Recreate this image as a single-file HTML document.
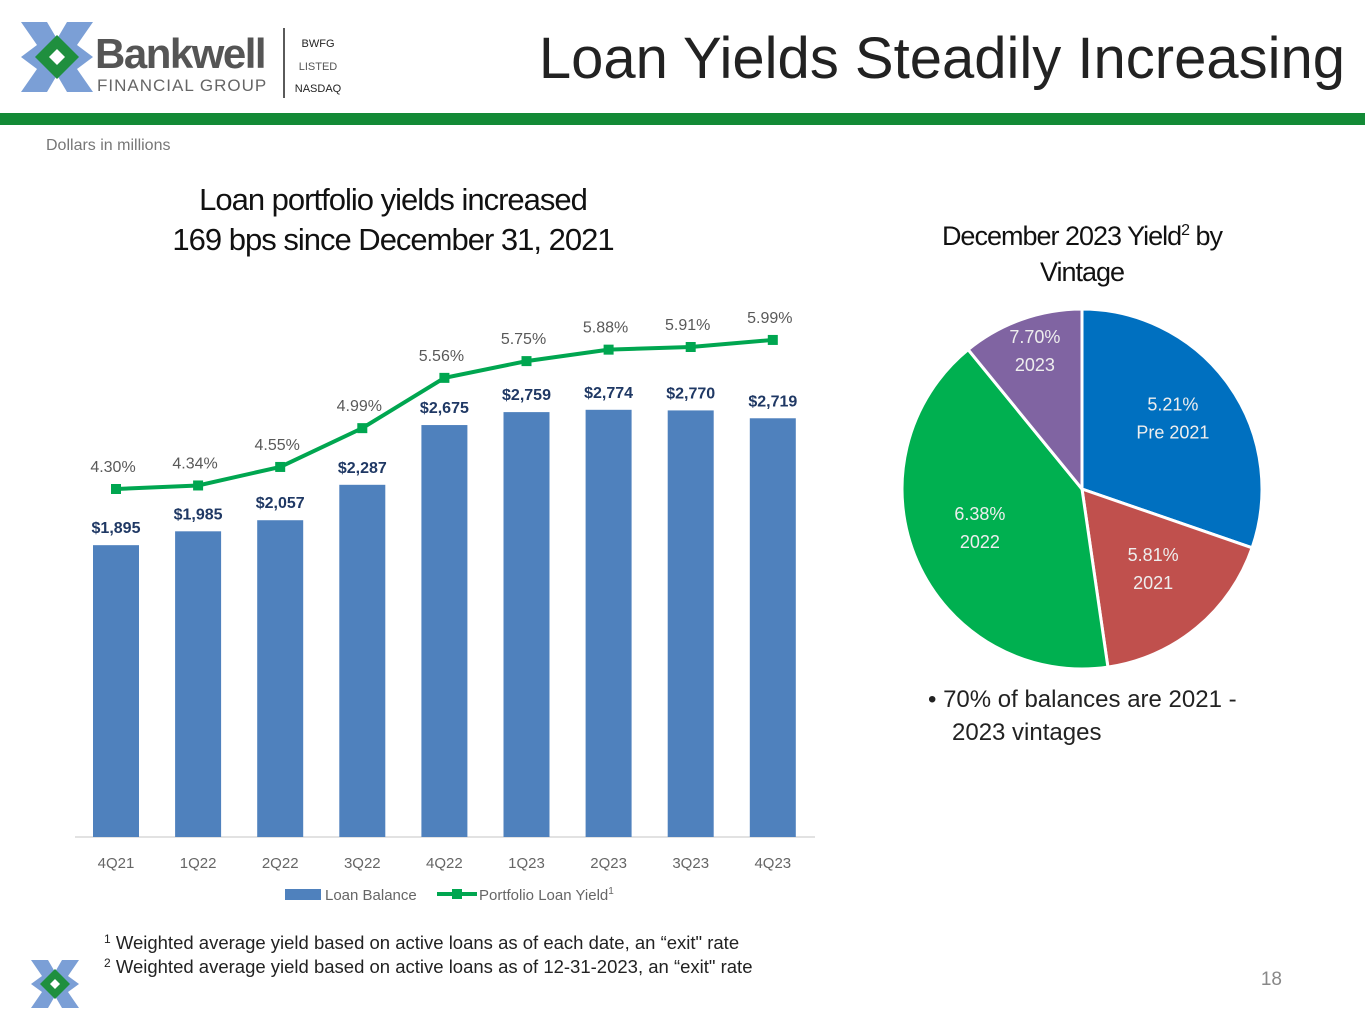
<!DOCTYPE html>
<html><head><meta charset="utf-8"><style>
body{margin:0;width:1365px;height:1024px;background:#fff;overflow:hidden;font-family:"Liberation Sans",sans-serif}
svg{display:block}
</style></head><body>
<svg id="page" width="1365" height="1024" viewBox="0 0 1365 1024">
<g>
  <g transform="translate(57,57)">
    <path d="M-36,-35 L-10,-35 L0,-18 L10,-35 L36,-35 L20,-12 L36,0 L20,12 L36,35 L10,35 L0,18 L-10,35 L-36,35 L-20,12 L-36,0 L-20,-12Z" fill="#7b9fd6"/>
    <path d="M0,-22 L22,0 L0,22 L-22,0Z" fill="#1f8f3e"/>
    <path d="M0,-8 L8,0 L0,8 L-8,0Z" fill="#fff"/>
  </g>
  <text x="95" y="68" font-size="42" font-weight="bold" fill="#555" letter-spacing="-1.5">Bankwell</text>
  <text x="97" y="91" font-size="17" fill="#666" letter-spacing="1">FINANCIAL GROUP</text>
  <line x1="284" y1="28" x2="284" y2="98" stroke="#222" stroke-width="1.5"/>
  <text x="318" y="47" font-size="11" fill="#222" text-anchor="middle">BWFG</text>
  <text x="318" y="70" font-size="11" fill="#555" text-anchor="middle">LISTED</text>
  <text x="318" y="92" font-size="11" fill="#222" text-anchor="middle">NASDAQ</text>
</g>
<text x="1345" y="78" font-size="58" fill="#222" text-anchor="end">Loan Yields Steadily Increasing</text>
<rect x="0" y="113" width="1365" height="12" fill="#138a36"/>
<text x="46" y="150" font-size="16" fill="#777">Dollars in millions</text>
<text x="393" y="210" font-size="31" fill="#111" text-anchor="middle" letter-spacing="-1">Loan portfolio yields increased</text>
<text x="393" y="250" font-size="31" fill="#111" text-anchor="middle" letter-spacing="-1">169 bps since December 31, 2021</text>
<g id="bars"></g>
<g>
  <rect x="285" y="889" width="36" height="11" fill="#4f81bd"/>
  <text x="325" y="900" font-size="15" fill="#666">Loan Balance</text>
  <line x1="437" y1="894" x2="477" y2="894" stroke="#00a650" stroke-width="4"/>
  <rect x="452" y="889" width="10" height="10" fill="#00a650"/>
  <text x="479" y="900" font-size="15" fill="#666">Portfolio Loan Yield<tspan font-size="10" dy="-6">1</tspan></text>
</g>
<text x="1082" y="245" font-size="27" fill="#111" text-anchor="middle" letter-spacing="-1">December 2023 Yield<tspan font-size="16" dy="-10">2</tspan><tspan dy="10"> by</tspan></text>
<text x="1082" y="281" font-size="27" fill="#111" text-anchor="middle" letter-spacing="-1">Vintage</text>
<g id="pie"></g>
<text x="928" y="707" font-size="24" fill="#222">•  70% of balances are 2021 -</text>
<text x="952" y="740" font-size="24" fill="#222">2023 vintages</text>
<text x="104" y="949" font-size="18.5" fill="#222"><tspan font-size="12" dy="-6">1</tspan><tspan dy="6"> Weighted average yield based on active loans as of each date, an “exit" rate</tspan></text>
<text x="104" y="973" font-size="18.5" fill="#222"><tspan font-size="12" dy="-6">2</tspan><tspan dy="6"> Weighted average yield based on active loans as of 12-31-2023, an “exit" rate</tspan></text>
<g transform="translate(55,984)">
  <path d="M-24,-24 L-7,-24 L0,-12 L7,-24 L24,-24 L13,-8 L24,0 L13,8 L24,24 L7,24 L0,12 L-7,24 L-24,24 L-13,8 L-24,0 L-13,-8Z" fill="#7b9fd6"/>
  <path d="M0,-15 L15,0 L0,15 L-15,0Z" fill="#1f8f3e"/>
  <path d="M0,-5 L5,0 L0,5 L-5,0Z" fill="#fff"/>
</g>
<text x="1282" y="985" font-size="19" fill="#888" text-anchor="end">18</text>
</svg>
<script>
const categories=["4Q21","1Q22","2Q22","3Q22","4Q22","1Q23","2Q23","3Q23","4Q23"];
const balances=[1895,1985,2057,2287,2675,2759,2774,2770,2719];
const balanceLabels=["$1,895","$1,985","$2,057","$2,287","$2,675","$2,759","$2,774","$2,770","$2,719"];
const yields=[4.30,4.34,4.55,4.99,5.56,5.75,5.88,5.91,5.99];
const yieldLabels=["4.30%","4.34%","4.55%","4.99%","5.56%","5.75%","5.88%","5.91%","5.99%"];
const pieShares=[30.3,17.4,41.4,10.9];
const pieRates=["5.21%","5.81%","6.38%","7.70%"];
const pieVintages=["Pre 2021","2021","2022","2023"];
const pieColors=["#0070c0","#c0504d","#00b050","#8064a2"];
const NS="http://www.w3.org/2000/svg";
function mk(t,a,p){const e=document.createElementNS(NS,t);for(const k in a)e.setAttribute(k,a[k]);p.appendChild(e);return e;}
const xS=i=>116+i*82.1;
const yB=v=>837-v*0.154;
const yL=v=>489-(v-4.30)*88.2;
const g=document.getElementById('bars');
let ax=mk('line',{x1:75,y1:837,x2:815,y2:837,stroke:'#d9d9d9','stroke-width':1.5},g);


categories.forEach((c,i)=>{
  const r=mk('rect',{x:xS(i)-23,y:yB(balances[i]),width:46,height:837-yB(balances[i]),fill:'#4f81bd'},g);
  
  
  const t=mk('text',{x:xS(i),y:yB(balances[i])-12,'font-size':16,'font-weight':'bold',fill:'#1f3864','text-anchor':'middle'},g);
  t.textContent=balanceLabels[i];
  
  
  const x=mk('text',{x:xS(i),y:868,'font-size':15,fill:'#666','text-anchor':'middle'},g);
  x.textContent=c;
  
  
});
const pl=mk('polyline',{points:yields.map((v,i)=>xS(i)+','+yL(v)).join(' '),fill:'none',stroke:'#00a650','stroke-width':4},g);


yields.forEach((v,i)=>{
  const m=mk('rect',{x:xS(i)-5,y:yL(v)-5,width:10,height:10,fill:'#00a650'},g);
  
  
  const t=mk('text',{x:xS(i)-3,y:yL(v)-17,'font-size':16,fill:'#595959','text-anchor':'middle'},g);
  t.textContent=yieldLabels[i];
  
  
});
const p=document.getElementById('pie');
const cx=1082,cy=489,R=180;
const tot=pieShares.reduce((a,b)=>a+b,0);
let a0=0;
const pt=(a,r)=>[cx+r*Math.sin(a),cy-r*Math.cos(a)];
pieShares.forEach((s,i)=>{
  const a1=a0+s/tot*2*Math.PI;
  const [x0,y0]=pt(a0,R),[x1,y1]=pt(a1,R);
  const path=mk('path',{d:`M${cx},${cy} L${x0},${y0} A${R},${R} 0 ${a1-a0>Math.PI?1:0} 1 ${x1},${y1} Z`,fill:pieColors[i],stroke:'#fff','stroke-width':3},p);
  
  
  const am=(a0+a1)/2;const rf=s/tot<0.15?0.78:0.62;const [lx,ly]=pt(am,R*rf);
  const t=mk('text',{x:lx,y:ly-14,'font-size':18,fill:'#eee','text-anchor':'middle'},p);
  t.textContent=pieRates[i];
  
  
  const t2=mk('text',{x:lx,y:ly+14,'font-size':18,fill:'#eee','text-anchor':'middle'},p);
  t2.textContent=pieVintages[i];
  
  
  a0=a1;
});
</script>
</body></html>
